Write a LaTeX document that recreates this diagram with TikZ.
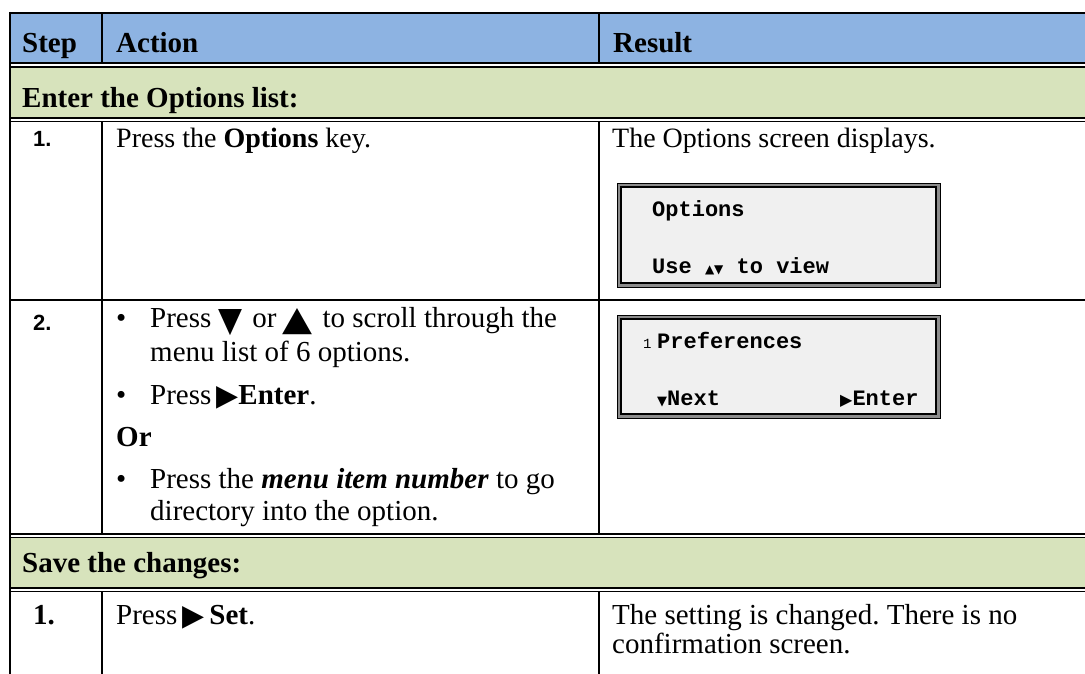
\documentclass[tikz,border=0pt]{standalone}
\usepackage{fontspec}
\usepackage{graphicx}
\setmainfont{Liberation Serif}
\newfontfamily\lcdfont{Liberation Mono}
\newfontfamily\numfont{Liberation Sans}
\newfontfamily\symfont{DejaVu Sans}
\usetikzlibrary{positioning}
\frenchspacing

\definecolor{hdrblue}{HTML}{8DB3E2}
\definecolor{bandgreen}{HTML}{D7E3BC}
\definecolor{lcdgray}{HTML}{F0F0F0}
\definecolor{lcdrim}{HTML}{8C8C8C}

\newcommand{\keydown}{\raisebox{-4pt}{\resizebox{24pt}{22pt}{\symfont ▼}}}
\newcommand{\keyup}{\raisebox{-3pt}{\resizebox{30pt}{22pt}{\symfont ▲}}}
\newcommand{\keyright}{\raisebox{-1pt}{\resizebox{22pt}{19pt}{\symfont ▶}}}

\begin{document}
\begin{tikzpicture}[
  x=1pt, y=-1pt,
  every node/.style={inner sep=0pt},
  cell/.style={anchor=base west, font=\fontsize{29}{34}\selectfont},
  hdr/.style={cell, font=\fontsize{29}{34}\selectfont\bfseries},
  num/.style={anchor=base west, font=\fontsize{22}{26}\selectfont\numfont\bfseries},
  bul/.style={anchor=base west, font=\fontsize{29}{34}\selectfont},
  lcdtxt/.style={anchor=base west, font=\fontsize{22}{26}\selectfont\lcdfont\bfseries},
  lcdouter/.style={draw=black, line width=0.8pt, fill=lcdrim},
  lcdinner/.style={draw=black, line width=1.3pt, fill=lcdgray},
  rulethick/.style={line width=2pt},
  rulethin/.style={line width=1.6pt}
]
\useasboundingbox (0,0) rectangle (1085,674);

% bands
\fill[hdrblue] (10,13) rectangle (1085,63);
\fill[bandgreen] (10,67) rectangle (1085,118);
\fill[bandgreen] (10,537) rectangle (1085,588);

% header
\node[hdr] (step) at (22,53) {Step};
\node[hdr] (action) at (116,53) {Action};
\node[hdr] (result) at (613,53) {Result};

% section: enter the list
\node[hdr] (enter) at (22,108) {Enter the Options list:};

% row 1
\node[num] (n1) at (33,147) {1.};
\node[cell, font=\fontsize{28}{33}\selectfont] (a1) at (116,148) {Press the \textbf{Options} key.};
\node[cell, font=\fontsize{28}{33}\selectfont] (r1) at (612,148) {The Options screen displays.};

\draw[lcdouter] (617,183) rectangle (940,287);
\draw[lcdinner] (621,187) rectangle (936,283);
\node[lcdtxt] (scr1a) at (652,216) {Options};
\node[lcdtxt] (scr1b) at (652,273) {Use {\symfont\fontsize{12}{13}\selectfont ▲▼} to view};

% row 2
\node[num] (n2) at (33,330) {2.};
\node[bul] (b1) at (116,327) {\textbullet};
\node[cell] (a2a) at (150,327) {Press\hspace{7pt}\keydown\hspace{10pt}or\hspace{6pt}\keyup\hspace{10pt}to scroll through the};
\node[cell] (a2b) at (150,361) {menu list of 6 options.};
\node[bul] (b2) at (116,404) {\textbullet};
\node[cell] (a2c) at (150,404) {Press\hspace{5pt}\keyright\textbf{Enter}.};
\node[cell] (a2d) at (116,446) {\textbf{Or}};
\node[bul] (b3) at (116,488) {\textbullet};
\node[cell] (a2e) at (150,488) {Press the \textbf{\textit{menu item number}} to go};
\node[cell] (a2f) at (150,520) {directory into the option.};

\draw[lcdouter] (617,315) rectangle (940,418);
\draw[lcdinner] (621,319) rectangle (936,414);
\node[anchor=base west, font=\fontsize{14}{15}\selectfont\lcdfont] (scr2n) at (643,348) {1};
\node[lcdtxt] (scr2a) at (657,348) {Preferences};
\node[lcdtxt] (scr2b) at (657,405) {{\symfont\fontsize{13}{13}\selectfont ▼}Next};
\node[lcdtxt] (scr2c) at (840,405) {{\symfont\fontsize{16}{16}\selectfont ▶}Enter};

% section: save
\node[hdr] (save) at (22,572) {Save the changes:};

% row 3
\node[hdr] (n3) at (33,624) {1.};
\node[cell] (a3) at (116,624) {Press\hspace{5pt}\keyright\hspace{5pt}\textbf{Set}.};
\node[cell] (r3a) at (612,624) {The setting is changed. There is no};
\node[cell] (r3b) at (612,653) {confirmation screen.};

% rules
\draw[rulethick] (10,13) -- (1085,13);
\draw[rulethick] (10,12) -- (10,674);
\draw[rulethick] (10,63) -- (1085,63);
\draw[rulethin] (10,67) -- (1085,67);
\draw[rulethick] (10,118) -- (1085,118);
\draw[rulethin] (10,121.5) -- (1085,121.5);
\draw[rulethin] (10,300) -- (1085,300);
\draw[rulethick] (10,534) -- (1085,534);
\draw[rulethin] (10,537.5) -- (1085,537.5);
\draw[rulethick] (10,588) -- (1085,588);
\draw[rulethin] (10,591.5) -- (1085,591.5);
\foreach \cx in {102,599} {
  \draw[rulethin] (\cx,13) -- (\cx,63);
  \draw[rulethin] (\cx,121.5) -- (\cx,534);
  \draw[rulethin] (\cx,591.5) -- (\cx,674);
}
\end{tikzpicture}
\end{document}
